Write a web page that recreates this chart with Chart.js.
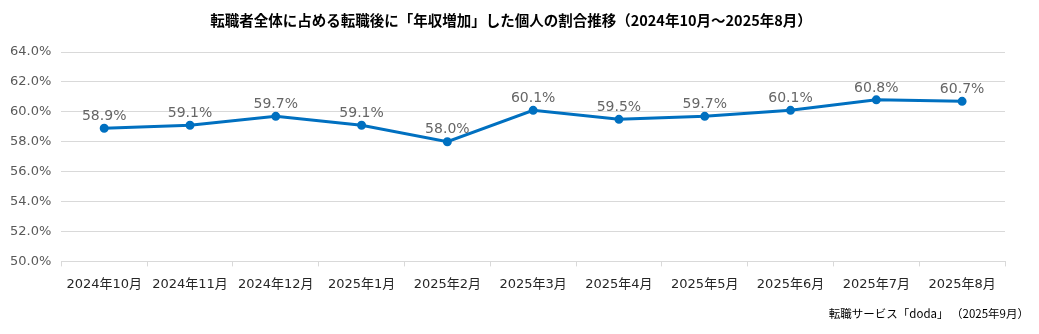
<!DOCTYPE html>
<html>
<head>
<meta charset="utf-8">
<script src="https://cdn.jsdelivr.net/npm/chart.js@4"></script>
<style>
  body { margin: 0; background: #fff; }
  #wrap { width: 1039px; height: 334px; }
</style>
</head>
<body>
<div id="wrap"><canvas id="chart"></canvas></div>
<script>
const months = ['2024年10月', '2024年11月', '2024年12月', '2025年1月', '2025年2月', '2025年3月',
    '2025年4月', '2025年5月', '2025年6月', '2025年7月', '2025年8月'];
const rates = [58.9, 59.1, 59.7, 59.1, 58.0, 60.1, 59.5, 59.7, 60.1, 60.8, 60.7];
const titleText = '転職者全体に占める転職後に「年収増加」した個人の割合推移（2024年10月～2025年8月）';
const sourceText = '転職サービス「doda」 （2025年9月）';

const FONT = '"DejaVu Sans", "Noto Sans CJK JP", sans-serif';
const JP = '"Noto Sans CJK JP", sans-serif';

// value labels, title and source note
const extraText = {
    id: 'extraText',
    afterDatasetsDraw(chart) {
        let ctx = chart.ctx;
        let meta = chart.getDatasetMeta(0);
        ctx.save();
        ctx.font = '14px ' + FONT;
        ctx.fillStyle = '#666666';
        ctx.textAlign = 'center';
        ctx.textBaseline = 'bottom';
        meta.data.forEach((pt, i) => {
            ctx.fillText(rates[i].toFixed(1) + '%', pt.x, pt.y - 5);
        });

        ctx.fillStyle = '#000';
        ctx.textBaseline = 'middle';
        ctx.font = 'bold 14.5px ' + JP;
        ctx.fillText(titleText, 511, 20);

        ctx.textAlign = 'right';
        ctx.font = '11.5px ' + JP;
        ctx.fillText(sourceText, 1029, 314);
        ctx.restore();
    }
};

let chart = new Chart(document.getElementById('chart'), {
    type: 'line',
    data: {
        labels: months,
        datasets: [{
            data: rates,
            borderColor: '#0070C0',
            backgroundColor: '#0070C0',
            borderWidth: 3,
            pointRadius: 3,
            pointHoverRadius: 3,
            tension: 0
        }]
    },
    options: {
        responsive: true,
        maintainAspectRatio: false,
        animation: false,
        layout: { padding: { left: 0, right: 34, top: 52, bottom: 32 } },
        plugins: {
            legend: { display: false },
            tooltip: { enabled: false },
            title: { display: false }
        },
        scales: {
            x: {
                offset: true,
                grid: {
                    offset: true,
                    drawOnChartArea: false,
                    drawTicks: true,
                    tickLength: 5,
                    color: '#d9d9d9'
                },
                border: { color: '#d9d9d9' },
                ticks: {
                    color: '#262626',
                    font: { family: FONT, size: 13 },
                    maxRotation: 0,
                    autoSkip: false,
                    padding: 10
                }
            },
            y: {
                min: 50,
                max: 64,
                grid: { color: '#d9d9d9', drawTicks: false },
                border: { display: false },
                ticks: {
                    stepSize: 2,
                    color: '#595959',
                    font: { family: FONT, size: 13 },
                    padding: 10,
                    callback: v => v.toFixed(1) + '%'
                }
            }
        }
    },
    plugins: [extraText]
});
</script>
</body>
</html>
